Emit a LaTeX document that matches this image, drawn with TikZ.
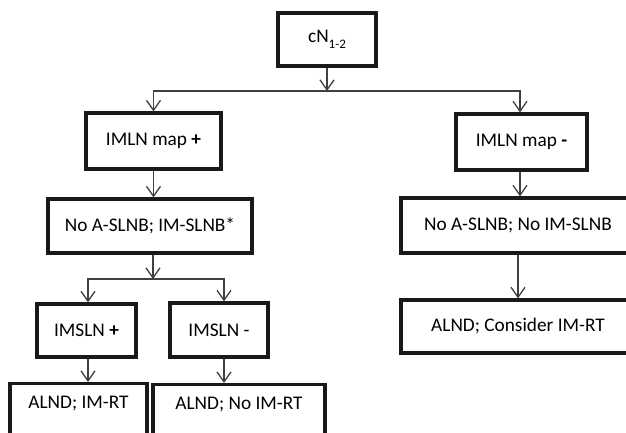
\documentclass[tikz,border=0pt]{standalone}
\usepackage{fontspec}
\setmainfont{Carlito}
\usetikzlibrary{arrows.meta}
\begin{document}
\begin{tikzpicture}[x=1pt,y=-1pt,
  box/.style={draw=black!90, line width=3.2pt, minimum height=54pt, inner sep=0pt, font=\fontsize{19.3}{23}\selectfont},
  conn/.style={draw=black!75, line width=1.3pt},
  arr/.style={conn, -{Straight Barb[length=10pt,width=14pt]}},
]
\useasboundingbox (0,0) rectangle (626,433);
\clip (0,0) rectangle (626,433);
\fill[white] (0,0) rectangle (626,433);

\node[box, minimum width=98pt, minimum height=53pt] (cn) at (327,39.5) {cN\raisebox{-0.3em}{\fontsize{13}{13}\selectfont 1-2}};
\node[box, minimum width=135pt, minimum height=56pt] (mapp) at (153.5,141) {IMLN map \textbf{+}};
\node[box, minimum width=131pt, minimum height=56pt] (mapm) at (521.5,142) {IMLN map \textbf{-}};
\node[box, minimum width=204pt] (slnb) at (150,226) {No A-SLNB; IM-SLNB*};
\node[box, minimum width=99pt, minimum height=53pt] (imp) at (86.5,330.5) {IMSLN \textbf{+}};
\node[box, minimum width=98pt] (imm) at (219,330) {IMSLN -};
\node[box, minimum width=234pt, minimum height=55pt] (noslnb) at (518,225.5) {No A-SLNB; No IM-SLNB};
\node[box, minimum width=234pt, minimum height=53pt] (consider) at (518,326.5) {ALND; Consider IM-RT};
\node[box, anchor=north, minimum height=0pt, minimum width=137pt, text height=13pt, text depth=28pt, inner ysep=11.5pt] (rt) at (78.5,382) {ALND; IM-RT};
\node[box, anchor=north, minimum height=0pt, minimum width=172pt, text height=13pt, text depth=28pt, inner ysep=11.5pt] (nort) at (239,383) {ALND; No IM-RT};

\coordinate (j1) at (327,91);
\coordinate (j2) at (153,279);
\draw[arr] (cn.south) -- (j1);
\draw[arr] (j1) -| (mapp.north);
\draw[arr] (j1) -| ([xshift=-1.5pt]mapm.north);
\draw[arr] (mapp.south) -- (mapp.south |- slnb.north);
\draw[arr] (slnb.south -| j2) -- (j2);
\draw[arr] (j2) -| ([xshift=1.5pt]imp.north);
\draw[arr] (j2) -| ([xshift=5pt]imm.north);
\draw[arr] ([xshift=1.5pt]imp.south) -- ([xshift=1.5pt]imp.south |- rt.north);
\draw[arr] ([xshift=5pt]imm.south) -- ([xshift=5pt]imm.south |- nort.north);
\draw[arr] ([xshift=-1.5pt]mapm.south) -- ([xshift=-1.5pt]mapm.south |- noslnb.north);
\draw[arr] (noslnb.south) -- (consider.north);
\end{tikzpicture}
\end{document}
